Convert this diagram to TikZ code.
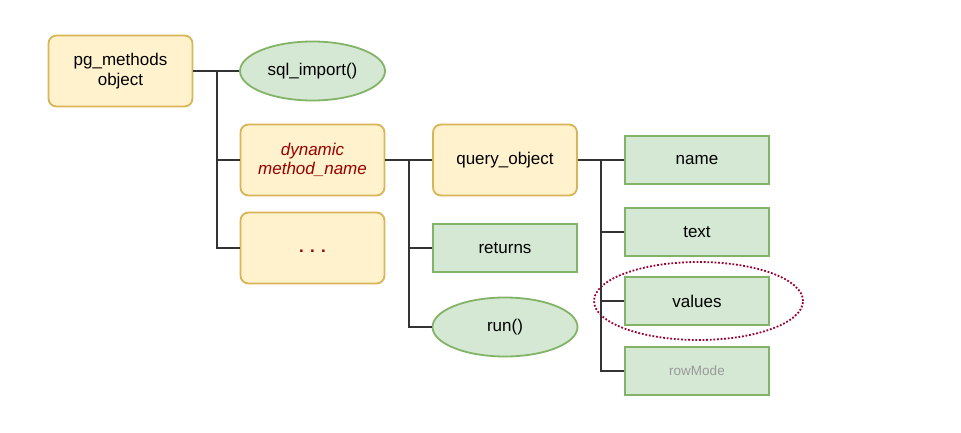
\documentclass[tikz,border=0pt]{standalone}
\usepackage{fontspec}
\setmainfont{Liberation Sans}
\usetikzlibrary{shapes.geometric}
\definecolor{yfill}{HTML}{FFF2CC}
\definecolor{ydraw}{HTML}{D6B656}
\definecolor{gfill}{HTML}{D5E8D4}
\definecolor{gdraw}{HTML}{82B366}
\definecolor{dred}{HTML}{990000}
\definecolor{dotred}{HTML}{990033}
\definecolor{lgray}{HTML}{999999}
\begin{document}
\begin{tikzpicture}[x=1pt,y=-1pt,
  ybox/.style={draw=ydraw,fill=yfill,line width=1.8pt,rounded corners=8pt,minimum width=144pt,minimum height=71pt,align=center,inner sep=2pt,font=\fontsize{17}{19.5}\selectfont},
  gbox/.style={draw=gdraw,fill=gfill,line width=1.8pt,minimum width=144pt,minimum height=48pt,align=center,inner sep=2pt,font=\fontsize{17}{19.5}\selectfont},
  gell/.style={ellipse,draw=gdraw,fill=gfill,line width=1.8pt,minimum width=145pt,minimum height=59pt,inner sep=0pt,font=\fontsize{17}{19.5}\selectfont},
  conn/.style={draw=black!80,line width=1.2pt}]
\useasboundingbox (0,0) rectangle (961,433);
\node[ybox] (pg) at (120.5,71) {pg\_methods\\object};
\node[gell] (sql) at (312.5,71) {sql\_import()};
\node[ybox,text=dred] (dyn) at (312.5,160) {\itshape dynamic\\\itshape method\_name};
\node[ybox,text=dred] (dots) at (312.5,248) {\raisebox{-4pt}[0pt][0pt]{\textbf{. . .}}};
\node[ybox] (qo) at (505,160) {query\_object};
\node[gbox] (ret) at (505,248) {returns};
\node[gell] (run) at (505,327) {run()};
\node[gbox] (name) at (697,160) {name};
\node[gbox] (text) at (697,232) {text};
\node[gbox] (vals) at (697,301) {values};
\node[gbox,text=lgray,font=\fontsize{13.5}{16}\selectfont] (rm) at (697,371) {rowMode};
\node[ellipse,draw=dotred,line width=1.8pt,dash pattern=on 1.8pt off 1.8pt,minimum width=209pt,minimum height=78pt] (hl) at (698.5,301) {};
\coordinate (b1) at (217,71);
\coordinate (b2) at (409,160);
\coordinate (b3) at (601,160);
\draw[conn] (pg.east) -- (sql.west);
\draw[conn] (b1) |- (dyn.west);
\draw[conn] (b1) |- (dots.west);
\draw[conn] (dyn.east) -- (qo.west);
\draw[conn] (b2) |- (ret.west);
\draw[conn] (b2) |- (run.west);
\draw[conn] (qo.east) -- (name.west);
\draw[conn] (b3) |- (text.west);
\draw[conn] (b3) |- (vals.west);
\draw[conn] (b3) |- (rm.west);
\end{tikzpicture}
\end{document}
